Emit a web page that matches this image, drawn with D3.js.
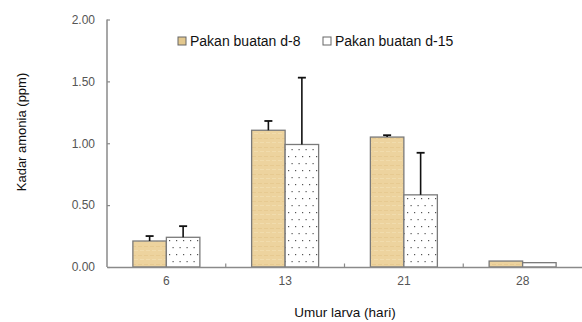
<!DOCTYPE html>
<html><head><meta charset="utf-8">
<script src="https://cdn.jsdelivr.net/npm/d3@7/dist/d3.min.js"></script>
<style>body{margin:0;background:#fff}svg{display:block;font-family:"Liberation Sans",Arial,sans-serif}</style>
</head><body>
<svg id="c" width="582" height="322"></svg>
<script>
const categories = ["6","13","21","28"];
const seriesNames = ["Pakan buatan d-8","Pakan buatan d-15"];
const d8 = [0.21, 1.105, 1.05, 0.048];
const d8err = [0.04, 0.075, 0.015, 0];
const d15 = [0.24, 0.99, 0.583, 0.035];
const d15err = [0.09, 0.54, 0.34, 0];
const yTicks = [0, 0.5, 1.0, 1.5, 2.0];

const svg = d3.select("#c");
const defs = svg.append("defs");
const pat = defs.append("pattern").attr("id","dots").attr("patternUnits","userSpaceOnUse")
  .attr("width",7).attr("height",14);
pat.append("rect").attr("width",7).attr("height",14).attr("fill","#fff");
pat.append("rect").attr("x",1).attr("y",2).attr("width",1.2).attr("height",1.2).attr("fill","#555");
pat.append("rect").attr("x",4.5).attr("y",9).attr("width",1.2).attr("height",1.2).attr("fill","#555");
const tex = defs.append("pattern").attr("id","tan").attr("patternUnits","userSpaceOnUse")
  .attr("width",6).attr("height",9);
tex.append("rect").attr("width",6).attr("height",9).attr("fill","#EDD39E");
tex.append("rect").attr("x",0).attr("y",3).attr("width",4).attr("height",1).attr("fill","#E4C68C").attr("opacity",0.7);
tex.append("rect").attr("x",2).attr("y",7).attr("width",4).attr("height",1).attr("fill","#F3DEB0").attr("opacity",0.8);

const m = {l:107, r:582, t:19.5, b:267};
const x = d3.scaleBand().domain(categories).range([m.l, m.r]);
const y = d3.scaleLinear().domain([0,2]).range([m.b, m.t]);
const bw = 33.5;

// y axis
const ya = svg.append("g").attr("transform",`translate(${m.l},0)`)
  .call(d3.axisLeft(y).tickValues(yTicks).tickFormat(d3.format(".2f")).tickSize(-3).tickPadding(12));
ya.select(".domain").attr("stroke","#8a8a8a").attr("stroke-width",1.5).attr("d",`M0,${m.b}V${m.t}`);
ya.selectAll(".tick line").attr("stroke","#8a8a8a").attr("stroke-width",1.2);
ya.selectAll("text").attr("fill","#555").attr("font-size",12).attr("font-family","Liberation Sans, Arial");

// bars
const groups = [{v:d8,e:d8err,fill:"url(#tan)",off:-bw},{v:d15,e:d15err,fill:"url(#dots)",off:0}];
groups.forEach(g=>{
  const gg = svg.append("g");
  gg.selectAll("rect").data(categories).join("rect")
    .attr("x",(c)=>x(c)+x.bandwidth()/2+g.off)
    .attr("y",(c,i)=>y(g.v[i]))
    .attr("width",bw)
    .attr("height",(c,i)=>y(0)-y(g.v[i]))
    .attr("fill",g.fill).attr("stroke","#7a7a7a").attr("stroke-width",1.3);
  categories.forEach((c,i)=>{
    if(g.e[i]<=0) return;
    const cx = x(c)+x.bandwidth()/2+g.off+bw/2;
    gg.append("line").attr("x1",cx).attr("x2",cx).attr("y1",y(g.v[i])).attr("y2",y(g.v[i]+g.e[i]))
      .attr("stroke","#111").attr("stroke-width",1.6);
    gg.append("line").attr("x1",cx-4).attr("x2",cx+4).attr("y1",y(g.v[i]+g.e[i])).attr("y2",y(g.v[i]+g.e[i]))
      .attr("stroke","#111").attr("stroke-width",1.8);
  });
});

// x axis
const xa = svg.append("g").attr("transform",`translate(0,${m.b})`)
  .call(d3.axisBottom(x).tickSize(0).tickPadding(9));
xa.select(".domain").attr("stroke","#8a8a8a").attr("stroke-width",1.5);
xa.selectAll("text").attr("fill","#555").attr("font-size",12).attr("font-family","Liberation Sans, Arial");
xa.selectAll(".sep").data(categories.slice(1)).join("line").attr("class","sep")
  .attr("x1",c=>x(c)).attr("x2",c=>x(c)).attr("y1",0).attr("y2",-3.5)
  .attr("stroke","#8a8a8a").attr("stroke-width",1.2);

// legend
const leg = [{x:178,fill:"#E3C88E"},{x:323,fill:"#fff"}];
seriesNames.forEach((n,i)=>{
  svg.append("rect").attr("x",leg[i].x).attr("y",37).attr("width",8).attr("height",8)
    .attr("fill",leg[i].fill).attr("stroke","#666").attr("stroke-width",1);
  svg.append("text").attr("x",leg[i].x+12).attr("y",46).attr("font-size",14).attr("fill","#111").text(n);
});

// axis titles
svg.append("text").attr("x",345).attr("y",316.5).attr("text-anchor","middle").attr("font-size",13.5).attr("fill","#111").text("Umur larva (hari)");
svg.append("text").attr("transform","translate(26,132) rotate(-90)").attr("text-anchor","middle").attr("font-size",13).attr("fill","#111").text("Kadar amonia (ppm)");
</script>
</body></html>
